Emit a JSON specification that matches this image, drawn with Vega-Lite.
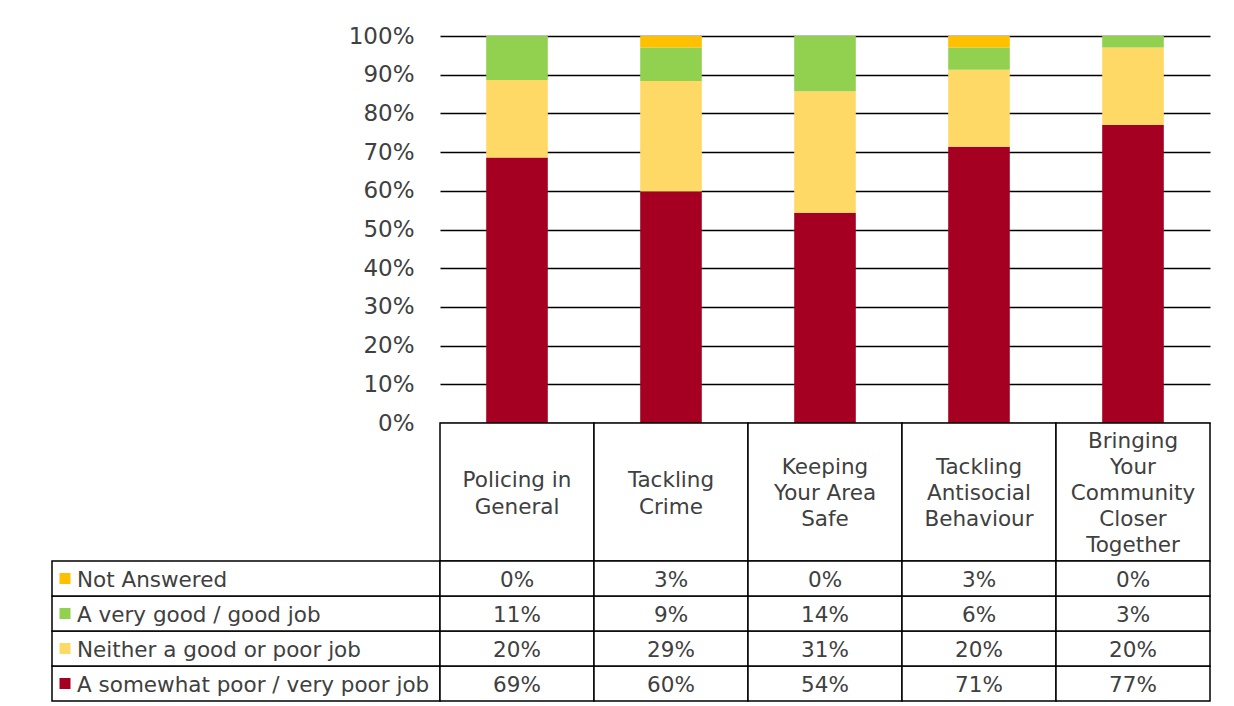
{
  "$schema": "https://vega.github.io/schema/vega-lite/v6.json",
  "background": "white",
  "padding": {"left": 51, "top": 25, "right": 5, "bottom": 0},
  "autosize": {"type": "pad"},
  "config": {"view": {"stroke": null}, "font": "DejaVu Sans"},
  "datasets": {
    "survey": [
      {"category": "Policing in General", "series": "A somewhat poor / very poor job", "value": 0.686},
      {"category": "Policing in General", "series": "Neither a good or poor job", "value": 0.200},
      {"category": "Policing in General", "series": "A very good / good job", "value": 0.114},
      {"category": "Policing in General", "series": "Not Answered", "value": 0.0},
      {"category": "Tackling Crime", "series": "A somewhat poor / very poor job", "value": 0.598},
      {"category": "Tackling Crime", "series": "Neither a good or poor job", "value": 0.286},
      {"category": "Tackling Crime", "series": "A very good / good job", "value": 0.086},
      {"category": "Tackling Crime", "series": "Not Answered", "value": 0.030},
      {"category": "Keeping Your Area Safe", "series": "A somewhat poor / very poor job", "value": 0.543},
      {"category": "Keeping Your Area Safe", "series": "Neither a good or poor job", "value": 0.314},
      {"category": "Keeping Your Area Safe", "series": "A very good / good job", "value": 0.143},
      {"category": "Keeping Your Area Safe", "series": "Not Answered", "value": 0.0},
      {"category": "Tackling Antisocial Behaviour", "series": "A somewhat poor / very poor job", "value": 0.714},
      {"category": "Tackling Antisocial Behaviour", "series": "Neither a good or poor job", "value": 0.199},
      {"category": "Tackling Antisocial Behaviour", "series": "A very good / good job", "value": 0.057},
      {"category": "Tackling Antisocial Behaviour", "series": "Not Answered", "value": 0.030},
      {"category": "Bringing Your Community Closer Together", "series": "A somewhat poor / very poor job", "value": 0.770},
      {"category": "Bringing Your Community Closer Together", "series": "Neither a good or poor job", "value": 0.200},
      {"category": "Bringing Your Community Closer Together", "series": "A very good / good job", "value": 0.030},
      {"category": "Bringing Your Community Closer Together", "series": "Not Answered", "value": 0.0}
    ],
    "headers": [
      {"category": "Policing in General", "label": "Policing in\nGeneral"},
      {"category": "Tackling Crime", "label": "Tackling\nCrime"},
      {"category": "Keeping Your Area Safe", "label": "Keeping\nYour Area\nSafe"},
      {"category": "Tackling Antisocial Behaviour", "label": "Tackling\nAntisocial\nBehaviour"},
      {"category": "Bringing Your Community Closer Together", "label": "Bringing\nYour\nCommunity\nCloser\nTogether"}
    ]
  },
  "columns": 2,
  "spacing": 0,
  "bounds": "flush",
  "concat": [
    {"width": 388, "height": 387, "data": {"values": []}, "mark": "text", "encoding": {}},
    {
      "width": 770,
      "height": 387,
      "data": {"name": "survey"},
      "transform": [
        {"calculate": "indexof(['A somewhat poor / very poor job', 'Neither a good or poor job', 'A very good / good job', 'Not Answered'], datum.series)", "as": "stackOrder"}
      ],
      "mark": {"type": "bar"},
      "encoding": {
        "x": {"field": "category", "type": "nominal", "sort": null, "axis": null, "scale": {"paddingInner": 0.6, "paddingOuter": 0.3}},
        "y": {
          "field": "value", "type": "quantitative", "stack": "zero",
          "scale": {"domain": [0, 1], "nice": false},
          "axis": {"title": null, "format": ".0%", "values": [0, 0.1, 0.2, 0.3, 0.4, 0.5, 0.6, 0.7, 0.8, 0.9, 1],
                   "grid": true, "gridColor": "#000000", "gridWidth": 1.5, "gridOpacity": 1,
                   "domain": false, "ticks": false, "labelFontSize": 23, "labelColor": "#404040",
                   "labelPadding": 26, "labelFont": "DejaVu Sans"}
        },
        "order": {"field": "stackOrder", "type": "quantitative", "sort": "ascending"},
        "color": {
          "field": "series", "type": "nominal",
          "scale": {"domain": ["A somewhat poor / very poor job", "Neither a good or poor job", "A very good / good job", "Not Answered"],
                    "range": ["#A50021", "#FFD966", "#92D050", "#FFC000"]},
          "legend": null
        }
      }
    },
    {"width": 388, "height": 138, "data": {"values": []}, "mark": "text", "encoding": {}},
    {
      "width": 770,
      "height": 138,
      "data": {"name": "headers"},
      "encoding": {
        "x": {"field": "category", "type": "nominal", "sort": null, "axis": null, "scale": {"paddingInner": 0, "paddingOuter": 0}}
      },
      "layer": [
        {"mark": {"type": "rect", "fill": "white", "stroke": "black", "strokeWidth": 1.5}},
        {"transform": [{"filter": {"field": "category", "oneOf": ["Policing in General", "Tackling Crime"]}}],
         "mark": {"type": "text", "fontSize": 21.5, "color": "#404040", "lineBreak": "\n", "lineHeight": 26.5, "dy": -11, "font": "DejaVu Sans"},
         "encoding": {"text": {"field": "label", "type": "nominal"}}},
        {"transform": [{"filter": {"field": "category", "oneOf": ["Keeping Your Area Safe", "Tackling Antisocial Behaviour"]}}],
         "mark": {"type": "text", "fontSize": 21.5, "color": "#404040", "lineBreak": "\n", "lineHeight": 26, "dy": -24, "font": "DejaVu Sans"},
         "encoding": {"text": {"field": "label", "type": "nominal"}}},
        {"transform": [{"filter": {"field": "category", "oneOf": ["Bringing Your Community Closer Together"]}}],
         "mark": {"type": "text", "fontSize": 21.5, "color": "#404040", "lineBreak": "\n", "lineHeight": 26, "dy": -50, "font": "DejaVu Sans"},
         "encoding": {"text": {"field": "label", "type": "nominal"}}}
      ]
    },
    {
      "width": 388,
      "height": 140,
      "data": {"name": "survey"},
      "transform": [{"filter": "datum.category === 'Policing in General'"}],
      "encoding": {
        "y": {"field": "series", "type": "nominal", "axis": null,
              "sort": ["Not Answered", "A very good / good job", "Neither a good or poor job", "A somewhat poor / very poor job"],
              "scale": {"paddingInner": 0, "paddingOuter": 0}}
      },
      "layer": [
        {"mark": {"type": "rect", "fill": "white", "stroke": "black", "strokeWidth": 1.5}},
        {"mark": {"type": "square", "size": 121, "filled": true, "opacity": 1},
         "encoding": {"x": {"value": 13},
                      "color": {"field": "series", "type": "nominal",
                                "scale": {"domain": ["A somewhat poor / very poor job", "Neither a good or poor job", "A very good / good job", "Not Answered"],
                                          "range": ["#A50021", "#FFD966", "#92D050", "#FFC000"]},
                                "legend": null}}},
        {"mark": {"type": "text", "align": "left", "fontSize": 21.5, "color": "#404040", "dy": 2, "font": "DejaVu Sans"},
         "encoding": {"x": {"value": 25}, "text": {"field": "series", "type": "nominal"}}}
      ]
    },
    {
      "width": 770,
      "height": 140,
      "data": {"name": "survey"},
      "encoding": {
        "x": {"field": "category", "type": "nominal", "sort": null, "axis": null, "scale": {"paddingInner": 0, "paddingOuter": 0}},
        "y": {"field": "series", "type": "nominal", "axis": null,
              "sort": ["Not Answered", "A very good / good job", "Neither a good or poor job", "A somewhat poor / very poor job"],
              "scale": {"paddingInner": 0, "paddingOuter": 0}}
      },
      "layer": [
        {"mark": {"type": "rect", "fill": "white", "stroke": "black", "strokeWidth": 1.5}},
        {"mark": {"type": "text", "fontSize": 21.5, "color": "#404040", "dy": 2, "font": "DejaVu Sans"},
         "encoding": {"text": {"field": "value", "type": "quantitative", "format": ".0%"}}}
      ]
    }
  ]
}
